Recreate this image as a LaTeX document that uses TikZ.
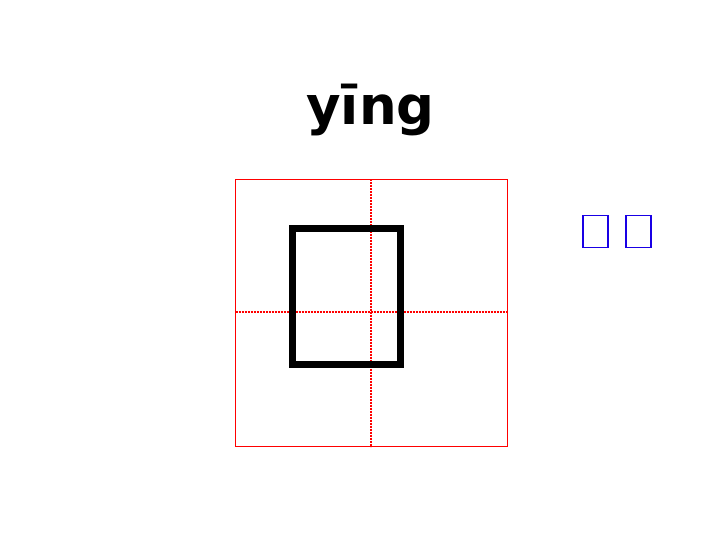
\documentclass[tikz,border=0pt]{standalone}
\usepackage{fontspec}
\usepackage{tikz}
\newfontfamily\pinyinfont{DejaVu Sans}
\usetikzlibrary{positioning}

\begin{document}
\begin{tikzpicture}[x=1pt, y=-1pt,
    grid/.style={draw=red, line width=0.8pt},
    guide/.style={draw=red, line width=1.6pt, dash pattern=on 2pt off 1pt},
    zibox/.style={draw=black, line width=7pt, inner sep=0pt, minimum width=108pt, minimum height=136pt},
    cibox/.style={draw=blue!90!red, line width=1.7pt, inner sep=0pt, minimum width=25pt, minimum height=32pt}]
    \useasboundingbox (0,0) rectangle (720,540);

    % Square {corners, middles}
    \coordinate (tl) at (235.5,179.5);
    \coordinate (br) at (507.5,446.5);
    \coordinate (mt) at (371,179.5);
    \coordinate (mb) at (371,446.5);
    \coordinate (ml) at (235.5,312);
    \coordinate (mr) at (507.5,312);

    % Paths
    \path [guide]   (mt) -- (mb);
    \path [guide]   (ml) -- (mr);
    \path [grid]    (tl) rectangle (br);

    % Nodes {title, zi, ci1, ci2}
    \node [anchor=base, font=\pinyinfont\bfseries\fontsize{53}{60}\selectfont, inner sep=0pt]
                                (title) at (370.5,125) {yīng};
    \node [zibox]               (zi)   at (346.5,296.5) {};
    \node [cibox]               (ci1)  at (595.5,231.5) {};
    \node [cibox]               (ci2)  [right=16pt of ci1] {};
\end{tikzpicture}
\end{document}
